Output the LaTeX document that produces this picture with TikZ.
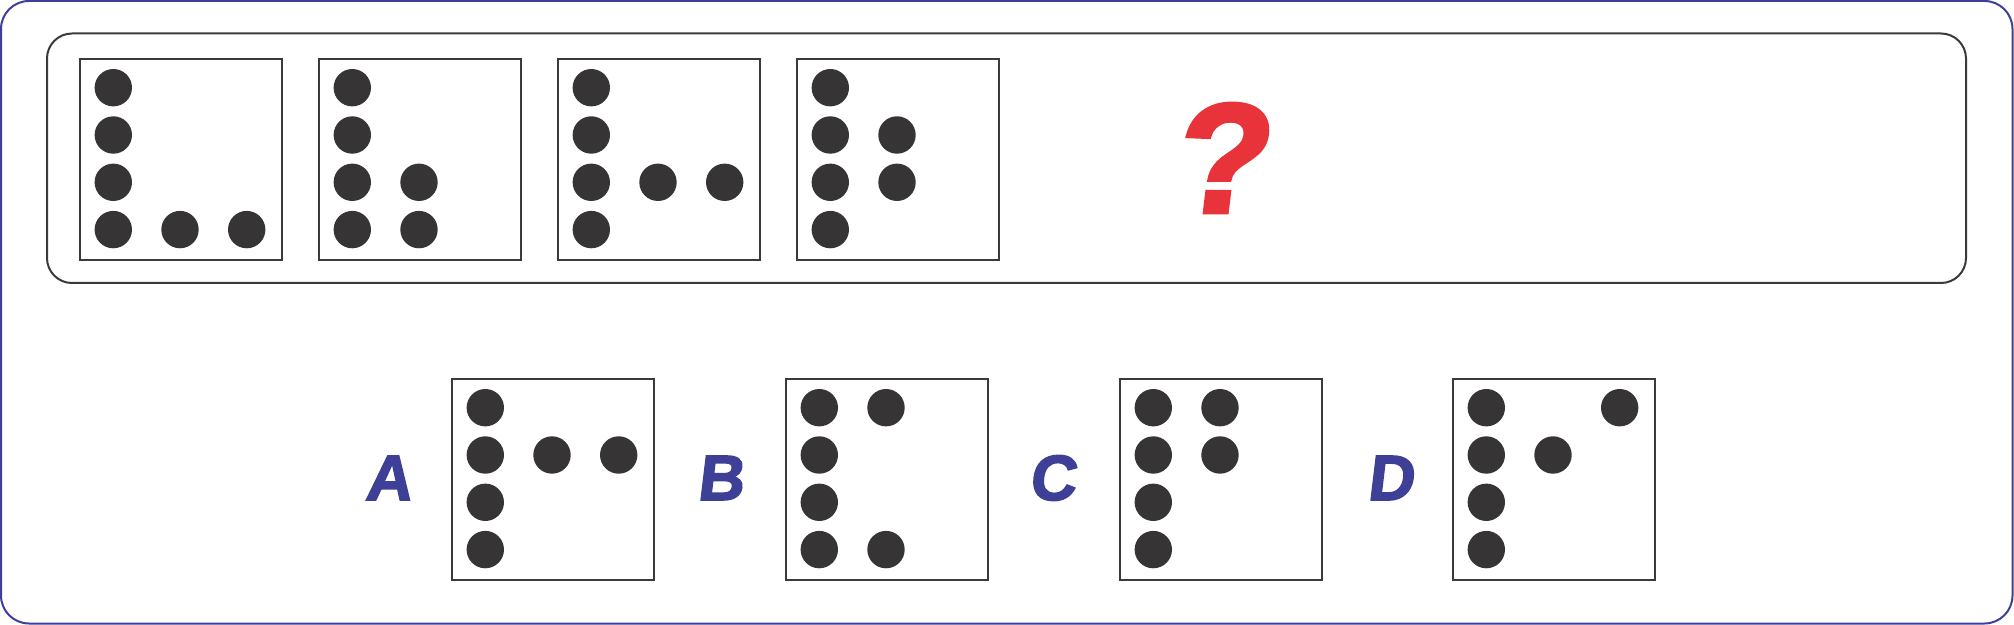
\documentclass[tikz,border=0pt]{standalone}
\usepackage{fontspec}
\setmainfont{Liberation Sans}
\newfontfamily\heavyfont[FakeBold=2.5,FakeSlant=0.12]{Liberation Sans Bold}
\definecolor{frameblue}{HTML}{3E3F96}
\definecolor{dotgray}{HTML}{363435}
\definecolor{boxgray}{HTML}{3A3A3A}
\definecolor{qred}{HTML}{E9333A}
\begin{document}
\begin{tikzpicture}[x=0.5pt,y=-0.5pt,
  panel/.style={draw=boxgray,line width=1pt,minimum width=101pt,minimum height=100.5pt,inner sep=0pt,anchor=north west},
  dot/.style={circle,fill=dotgray,minimum size=18.7pt,inner sep=0pt},
  optlabel/.style={text=frameblue,font=\heavyfont\fontsize{32}{32}\selectfont,inner sep=0pt}]
\useasboundingbox (0,0) rectangle (2014,625);
\draw[frameblue,line width=1pt,rounded corners=14pt] (1,1) rectangle (2012.5,623.5);
\draw[boxgray,line width=1pt,rounded corners=12.5pt] (47,33.5) rectangle (1966,283);
% dot pattern macro: #1 name, #2 left, #3 top, #4 list of col/row
\newcommand{\mypanel}[4]{%
  \node[panel] (#1) at (#2,#3) {};
  \foreach \c/\r in {0/0,0/1,0/2,0/3,#4}{%
    \node[dot] (#1-\c-\r) at ({#2+34.3+66.7*\c},{#3+29.7+47.3*\r}) {};
  }%
}
\mypanel{p1}{79}{58}{1/3,2/3}
\mypanel{p2}{318}{58}{1/2,1/3}
\mypanel{p3}{557}{58}{1/2,2/2}
\mypanel{p4}{796}{58}{1/1,1/2}
\node[text=qred,font=\heavyfont\fontsize{78}{78}\selectfont,inner sep=0pt] (q) at (1219,158) {?};
\mypanel{pa}{451}{378}{1/1,2/1}
\mypanel{pb}{785}{378}{1/0,1/3}
\mypanel{pc}{1119}{378}{1/0,1/1}
\mypanel{pd}{1452}{378}{1/1,2/0}
\node[optlabel] (la) at (388,478) {A};
\node[optlabel] (lb) at (720,478) {B};
\node[optlabel] (lc) at (1052,478) {C};
\node[optlabel] (ld) at (1390,478) {D};
\end{tikzpicture}
\end{document}
